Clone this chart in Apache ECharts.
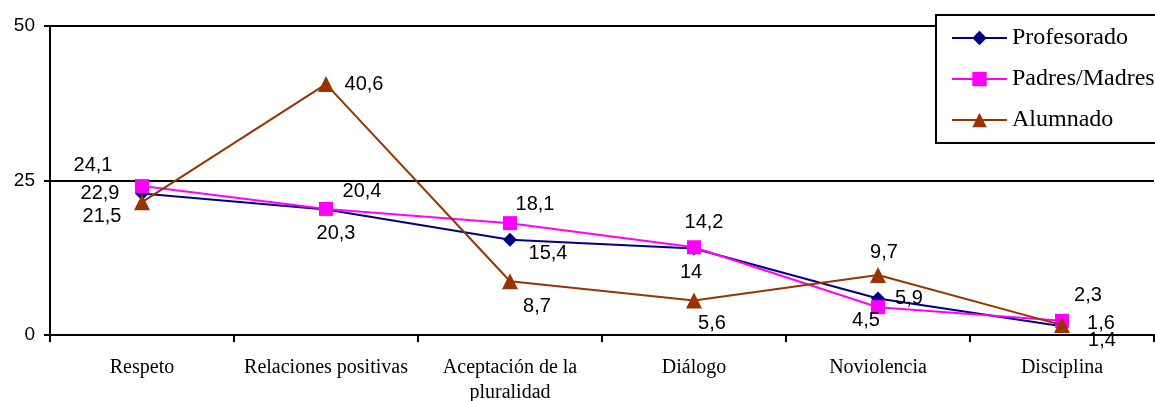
<!DOCTYPE html>
<html>
<head>
<meta charset="utf-8">
<script src="https://cdn.jsdelivr.net/npm/echarts@6/dist/echarts.min.js"></script>
<style>html,body{margin:0;padding:0;background:#fff}#c{width:1155px;height:401px}</style>
</head>
<body>
<div id="c"></div>
<script>
var categories = ['Respeto', 'Relaciones positivas', 'Aceptación de la\npluralidad', 'Diálogo', 'Noviolencia', 'Disciplina'];
var profesorado = [22.9, 20.3, 15.4, 14, 5.9, 1.4];
var padresMadres = [24.1, 20.4, 18.1, 14.2, 4.5, 2.3];
var alumnado = [21.5, 40.6, 8.7, 5.6, 9.7, 1.6];
var yTicks = [0, 25, 50];

// label placement (styling only)
var offProf = [[-42, 0], [10, 24], [38, 14], [-3, 24], [31, 0], [40, 14]];
var offPad = [[-49, -21], [36, -17], [25, -19], [10, -25], [-12, 13], [26, -25]];
var offAlu = [[-40, 14], [38, 0], [27, 25], [18, 23], [6, -23], [39, -2]];

function fmt(v) { return String(v).replace('.', ','); }
function withLabels(vals, offs) {
  return vals.map(function (v, i) {
    return { value: v, label: { offset: offs[i] } };
  });
}
var labelBase = {
  show: true, position: 'inside', formatter: function (p) { return fmt(p.value); },
  fontFamily: 'Liberation Sans, Arial', fontSize: 20, color: '#000'
};

var chart = echarts.init(document.getElementById('c'), null, { renderer: 'canvas' });
chart.setOption({
  animation: false,
  backgroundColor: '#fff',
  grid: { left: 50, right: 1, top: 26, bottom: 66, containLabel: false, outerBoundsMode: 'none' },
  legend: {
    orient: 'vertical', left: 936, top: 15,
    borderColor: '#000', borderWidth: 2, backgroundColor: '#fff',
    padding: [10, 60, 10, 15], itemGap: 15, itemWidth: 55, itemHeight: 18,
    lineStyle: { width: 2 },
    textStyle: { fontFamily: 'Liberation Serif, Times New Roman', fontSize: 24, color: '#000', lineHeight: 26 },
    data: ['Profesorado', 'Padres/Madres', 'Alumnado']
  },
  xAxis: {
    type: 'category', data: categories, boundaryGap: true,
    axisLine: { lineStyle: { color: '#000', width: 2 } },
    axisTick: { show: true, length: 7, lineStyle: { color: '#000', width: 2 }, alignWithLabel: false },
    axisLabel: { fontFamily: 'Liberation Serif, Times New Roman', fontSize: 20, color: '#000', margin: 20, lineHeight: 25, interval: 0 },
    splitLine: { show: false }
  },
  yAxis: {
    type: 'value', min: yTicks[0], max: yTicks[yTicks.length - 1], interval: 25,
    axisLine: { show: true, lineStyle: { color: '#000', width: 2 } },
    axisTick: { show: true, length: 6, lineStyle: { color: '#000', width: 2 } },
    axisLabel: { fontFamily: 'Liberation Sans, Arial', fontSize: 19, color: '#000', margin: 15 },
    splitLine: { show: true, lineStyle: { color: '#000', width: 2 } }
  },
  series: [
    {
      name: 'Profesorado', type: 'line', data: withLabels(profesorado, offProf),
      symbol: 'diamond', symbolSize: 14,
      itemStyle: { color: '#000080' }, lineStyle: { color: '#000080', width: 2 },
      label: labelBase, z: 3
    },
    {
      name: 'Padres/Madres', type: 'line', data: withLabels(padresMadres, offPad),
      symbol: 'rect', symbolSize: 14,
      itemStyle: { color: '#FF00FF' }, lineStyle: { color: '#FF00FF', width: 2 },
      label: labelBase, z: 4
    },
    {
      name: 'Alumnado', type: 'line', data: withLabels(alumnado, offAlu),
      symbol: 'triangle', symbolSize: 16,
      itemStyle: { color: '#993300' }, lineStyle: { color: '#993300', width: 2 },
      label: labelBase, z: 5
    }
  ]
});
</script>
</body>
</html>
